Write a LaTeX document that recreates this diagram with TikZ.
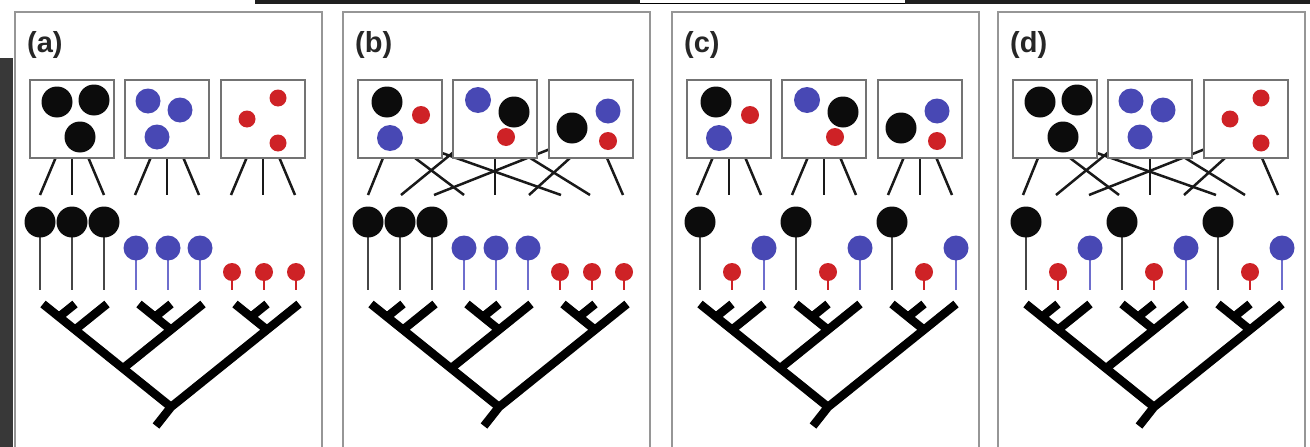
\documentclass[tikz,border=0pt]{standalone}
\usepackage{fontspec}
\setmainfont{Liberation Sans}
\usetikzlibrary{calc}
\pgfdeclarelayer{back}
\pgfdeclarelayer{links}
\pgfsetlayers{back,links,main}
\definecolor{cblack}{RGB}{12,12,12}
\definecolor{cblue}{RGB}{72,72,180}
\definecolor{cred}{RGB}{206,34,38}
\definecolor{framegray}{RGB}{150,150,150}
\definecolor{boxgray}{RGB}{115,115,115}
\definecolor{stemgray}{RGB}{70,70,70}
\definecolor{stemblue}{RGB}{110,110,205}
\tikzset{
  panelframe/.style={draw=framegray, line width=1.6pt, fill=white},
  smallbox/.style={draw=boxgray, line width=1.4pt, fill=white, minimum width=84pt, minimum height=78pt, inner sep=0pt, outer sep=0pt, anchor=north west},
  link/.style={draw=black!90, line width=2.5pt},
  branch/.style={draw=black, line width=8.5pt, line cap=butt, line join=miter},
  stemk/.style={draw=stemgray, line width=2pt},
  stemu/.style={draw=stemblue, line width=2pt},
  stemr/.style={draw=cred, line width=2.2pt},
  plabel/.style={font=\fontsize{29}{29}\selectfont\bfseries, text=black!85, anchor=base west, inner sep=0pt},
}
% #1 prefix, #2 left x, #3 letter, #4 box type (0 sorted, 1 mixed), #5 link type (0 parallel, 1 crossing), #6 lollipop type (0 grouped, 1 triplets), #7 stem offset
\newcommand{\drawpanel}[7]{%
\begin{scope}[shift={(#2,0)}]
  \begin{pgfonlayer}{back}
    \draw[panelframe] (0,12) rectangle (307,470);
  \end{pgfonlayer}
  % boxes
  \node[smallbox] (#1b1) at (15,80) {};
  \node[smallbox] (#1b2) at (110,80) {};
  \node[smallbox] (#1b3) at (206,80) {};
  % box contents
  \ifnum#4=0
    \fill[cblack] (15+27,102) circle (15.5pt);
    \fill[cblack] (15+64,100) circle (15.5pt);
    \fill[cblack] (15+50,137) circle (15.5pt);
    \fill[cblue] (110+23,101) circle (12.5pt);
    \fill[cblue] (110+55,110) circle (12.5pt);
    \fill[cblue] (110+32,137) circle (12.5pt);
    \fill[cred] (206+57,98) circle (8.5pt);
    \fill[cred] (206+26,119) circle (8.5pt);
    \fill[cred] (206+57,143) circle (8.5pt);
  \else
    \fill[cblack] (15+29,102) circle (15.5pt);
    \fill[cred] (15+63,115) circle (9pt);
    \fill[cblue] (15+32,138) circle (13pt);
    \fill[cblue] (110+25,100) circle (13pt);
    \fill[cblack] (110+61,112) circle (15.5pt);
    \fill[cred] (110+53,137) circle (9pt);
    \fill[cblack] (206+23,128) circle (15.5pt);
    \fill[cblue] (206+59,111) circle (12.5pt);
    \fill[cred] (206+59,141) circle (9pt);
  \fi
  % links
  \begin{pgfonlayer}{links}
  \ifnum#5=0
    \foreach \k/\cx in {1/57,2/152,3/248}{
      \foreach \j in {-1,0,1}{
        \coordinate (#1e\k\j) at (\cx+32*\j,195);
        \draw[link] (#1b\k.center) -- (#1e\k\j);
      }
    }
  \else
    \foreach \n/\tx/\ty/\ex in {1/40/158/25, 2/72/158/121, 3/99/153/218,
        4/107/155/58, 5/152/158/152, 6/184/156/247,
        7/197/153/91, 8/227/158/186, 9/264/158/280}{
      \coordinate (#1t\n) at (\tx,\ty);
      \coordinate (#1e\n) at (\ex,195);
      \draw[link] ($(#1e\n)!1.3!(#1t\n)$) -- (#1e\n);
    }
  \fi
  \end{pgfonlayer}
  % lollipops
  \foreach \i in {0,...,8}{
    \pgfmathsetmacro\lx{#7+32*\i}
    \ifnum#6=0
      \pgfmathtruncatemacro\lt{int(\i/3)}
    \else
      \pgfmathtruncatemacro\lt{mod(3-mod(\i,3),3)}
    \fi
    \ifcase\lt
      \draw[stemk] (\lx,222) -- (\lx,290);
      \fill[cblack] (\lx,222) circle (15.5pt);
    \or
      \draw[stemu] (\lx,248) -- (\lx,290);
      \fill[cblue] (\lx,248) circle (12.5pt);
    \or
      \draw[stemr] (\lx,272) -- (\lx,290);
      \fill[cred] (\lx,272) circle (9pt);
    \fi
  }
  % tree
  \coordinate (#1t0) at (28,304);
  \coordinate (#1t1) at (60,304);
  \coordinate (#1t2) at (92,304);
  \coordinate (#1t3) at (124,304);
  \coordinate (#1t4) at (156,304);
  \coordinate (#1t5) at (188,304);
  \coordinate (#1t6) at (220,304);
  \coordinate (#1t7) at (252,304);
  \coordinate (#1t8) at (284,304);
  \coordinate (#1n01) at (44,316.9);
  \coordinate (#1n012) at (60,329.8);
  \coordinate (#1n34) at (140,316.9);
  \coordinate (#1n345) at (156,329.8);
  \coordinate (#1nA) at (108,368.4);
  \coordinate (#1n67) at (236,316.9);
  \coordinate (#1n678) at (252,329.8);
  \coordinate (#1root) at (156,407);
  \coordinate (#1stub) at (141,426);
  \draw[branch] (#1t0) -- (#1root);
  \draw[branch] (#1t1) -- (#1n01);
  \draw[branch] (#1t2) -- (#1n012);
  \draw[branch] (#1t3) -- (#1n345);
  \draw[branch] (#1t4) -- (#1n34);
  \draw[branch] (#1t5) -- (#1nA);
  \draw[branch] (#1t6) -- (#1n678);
  \draw[branch] (#1t7) -- (#1n67);
  \draw[branch] (#1t8) -- (#1root) -- (#1stub);
  % label
  \node[plabel] (#1lab) at (12,52) {(#3)};
\end{scope}%
}
\begin{document}
\begin{tikzpicture}[x=1pt,y=-1pt]
\useasboundingbox (0,0) rectangle (1310,447);
\begin{pgfonlayer}{back}
\clip (0,0) rectangle (1310,447);
\fill[white] (0,0) rectangle (1310,447);
\fill[black!78] (0,58) rectangle (13,447);
\fill[black!88] (255,0) rectangle (640,3.5);
\fill[black!88] (905,0) rectangle (1310,3.5);
\draw[black, line width=1pt] (640,3) -- (905,3);
\end{pgfonlayer}
\drawpanel{pa}{15}{a}{0}{0}{0}{25}
\drawpanel{pb}{343}{b}{1}{1}{0}{25}
\drawpanel{pc}{672}{c}{1}{0}{1}{28}
\drawpanel{pd}{998}{d}{0}{1}{1}{28}
\end{tikzpicture}
\end{document}
